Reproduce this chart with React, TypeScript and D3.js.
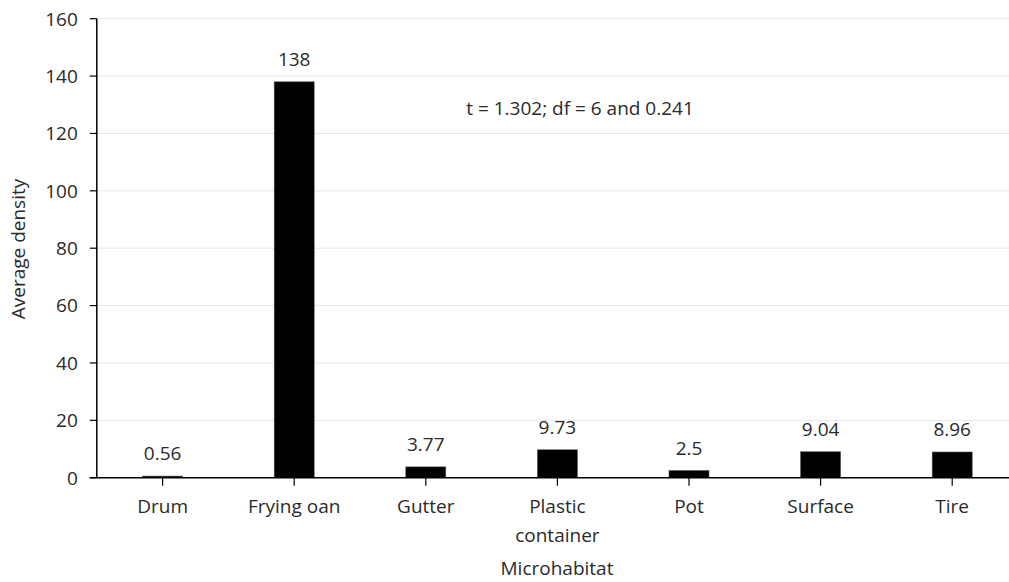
import React from "react";
import * as d3 from "d3";

const categories = ["Drum", "Frying oan", "Gutter", "Plastic container", "Pot", "Surface", "Tire"];
const values = [0.56, 138, 3.77, 9.73, 2.5, 9.04, 8.96];
const valueLabels = ["0.56", "138", "3.77", "9.73", "2.5", "9.04", "8.96"];
const yTicks = [0, 20, 40, 60, 80, 100, 120, 140, 160];
const annotation = "t = 1.302; df = 6 and 0.241";
const xTitle = "Microhabitat";
const yTitle = "Average density";

const W = 1009;
const H = 582;
const left = 96.8;
const right = 1018;
const top = 18.7;
const bottom = 477.7;
const font = "'Open Sans', 'Noto Sans', sans-serif";
const textColor = "#2a2a2a";
const fs = 19;

export default function App() {
  const x = d3.scaleBand<string>().domain(categories).range([left, right]).paddingInner(0).paddingOuter(0);
  const y = d3.scaleLinear().domain([0, 160]).range([bottom, top]);
  const barW = 40;

  return (
    <svg width={W} height={H} style={{ position: "absolute", left: 0, top: 0, background: "#fff" }} fontFamily={font}>
      {yTicks.map((t) => (
        <g key={t}>
          {t > 0 && <line x1={left} x2={W} y1={y(t)} y2={y(t)} stroke="#e6e6e6" strokeWidth={1} />}
          <line x1={left - 7} x2={left} y1={y(t)} y2={y(t)} stroke="#000" strokeWidth={1.2} />
          <text x={left - 19} y={y(t)} dy="0.36em" textAnchor="end" fontSize={fs} fill={textColor}>{t}</text>
        </g>
      ))}
      {categories.map((c, i) => {
        const cx = x(c)! + x.bandwidth() / 2;
        return (
          <g key={c}>
            <rect x={cx - barW / 2} y={y(values[i])} width={barW} height={bottom - y(values[i])} fill="#000" stroke="#555" strokeWidth={0.6} />
            <text x={cx} y={y(values[i]) - 16} textAnchor="middle" fontSize={fs} fill={textColor}>{valueLabels[i]}</text>
            <line x1={cx} x2={cx} y1={bottom} y2={bottom + 8} stroke="#000" strokeWidth={1.2} />
            {c === "Plastic container" ? (
              <text x={cx} y={513} textAnchor="middle" fontSize={fs} fill={textColor}>
                <tspan x={cx}>Plastic</tspan>
                <tspan x={cx} dy={29}>container</tspan>
              </text>
            ) : (
              <text x={cx} y={513} textAnchor="middle" fontSize={fs} fill={textColor}>{c}</text>
            )}
          </g>
        );
      })}
      <line x1={left} x2={left} y1={top} y2={bottom} stroke="#000" strokeWidth={1.5} />
      <line x1={left - 7} x2={W} y1={bottom} y2={bottom} stroke="#000" strokeWidth={1.5} />
      <text x={580} y={115} textAnchor="middle" fontSize={fs} fill={textColor}>{annotation}</text>
      <text x={557} y={575} textAnchor="middle" fontSize={fs} fill={textColor}>{xTitle}</text>
      <text transform={`translate(25, 249) rotate(-90)`} textAnchor="middle" fontSize={fs} fill={textColor}>{yTitle}</text>
    </svg>
  );
}
